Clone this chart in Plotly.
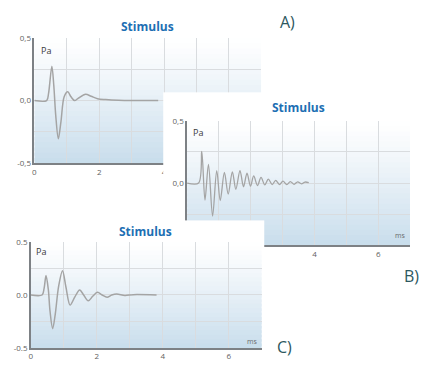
import plotly.graph_objects as go

# ---------------- data ----------------
a_time = [0.0, 0.38, 0.44, 0.54, 0.60, 0.66, 0.74, 0.82, 0.92, 1.03, 1.13, 1.24,
          1.36, 1.58, 1.75, 1.95, 2.2, 2.6, 3.0, 3.82]
a_pressure = [0.0, 0.0, 0.06, 0.275, 0.12, -0.12, -0.305, -0.17, 0.03, 0.07, 0.03, 0.0,
              0.02, 0.05, 0.035, 0.015, 0.008, 0.002, 0.0, 0.0]

b_time = [0.0, 0.36, 0.46, 0.56, 0.67, 0.80, 0.93, 1.04, 1.17, 1.29, 1.42, 1.53,
          1.66, 1.77, 1.88, 1.99, 2.09, 2.21, 2.32, 2.44, 2.55, 2.67, 2.78, 2.90,
          3.01, 3.13, 3.24, 3.36, 3.47, 3.59, 3.70, 3.82]
b_pressure = [0.0, 0.0, 0.255, -0.137, 0.15, -0.265, 0.10, -0.14, 0.085, -0.088, 0.09, -0.05,
              0.10, -0.03, 0.08, -0.025, 0.057, -0.02, 0.045, -0.015, 0.032, -0.012, 0.022, -0.012,
              0.015, -0.012, 0.012, -0.01, 0.01, -0.006, 0.008, 0.003]

c_time = [0.0, 0.34, 0.40, 0.46, 0.53, 0.58, 0.66, 0.74, 0.84, 0.96, 1.06, 1.19,
          1.33, 1.48, 1.60, 1.74, 1.88, 2.02, 2.16, 2.31, 2.45, 2.60, 2.85, 3.10, 3.81]
c_pressure = [0.0, 0.0, 0.06, 0.183, 0.05, -0.15, -0.318, -0.18, 0.08, 0.23, 0.08, -0.095,
              -0.02, 0.048, 0.0, -0.055, -0.01, 0.025, 0.0, -0.021, 0.0, 0.01, -0.004, 0.003, 0.0]

x_ticks = [0, 1, 2, 3, 4, 5, 6, 7]
x_ticklabels = ["0", "", "2", "", "4", "", "6", ""]
y_ticks = [-0.5, -0.25, 0.0, 0.25, 0.5]
y_ticklabels_comma = ["-0,5", "", "0,0", "", "0,5"]
y_ticklabels_dot = ["-0.5", "", "0.0", "", "0.5"]

title_text = "Stimulus"
y_unit = "Pa"
x_unit = "ms"
panel_names = ["A)", "B)", "C)"]

# ---------------- layout helpers (pixel boxes) ----------------
W, H = 423, 368


def dx(p0, p1):
    return [p0 / W, p1 / W]


def dy(p0, p1):  # p0 = top pixel, p1 = bottom pixel
    return [1 - p1 / H, 1 - p0 / H]


def px(x):
    return x / W


def py(y):
    return 1 - y / H


FONT = "Open Sans"
TRACE_COLOR = "#a4a4a4"
GRID = "#d9dcdf"
AXLINE = "#7d8185"
TICKFONT = dict(family=FONT, size=8, color="#5f5f5f")
TITLE_BLUE = "#1d6fb3"
LABEL_TEAL = "#2c5760"

fig = go.Figure()

# subplot 1: full-page dummy (keeps the rest drawn in stacking order)
fig.add_trace(go.Scatter(x=[], y=[], xaxis="x", yaxis="y", showlegend=False, hoverinfo="skip"))
# subplot 2: chart A
fig.add_trace(go.Scatter(x=a_time, y=a_pressure, xaxis="x2", yaxis="y2", mode="lines",
                         line=dict(color=TRACE_COLOR, width=1.5, shape="spline", smoothing=0.9),
                         showlegend=False, hoverinfo="skip"))
# subplot 3: panel B background
fig.add_trace(go.Scatter(x=[], y=[], xaxis="x3", yaxis="y3", showlegend=False, hoverinfo="skip"))
# subplot 4: chart B
fig.add_trace(go.Scatter(x=b_time, y=b_pressure, xaxis="x4", yaxis="y4", mode="lines",
                         line=dict(color=TRACE_COLOR, width=1.3, shape="spline", smoothing=0.9),
                         showlegend=False, hoverinfo="skip"))
# subplot 5: panel C background
fig.add_trace(go.Scatter(x=[], y=[], xaxis="x5", yaxis="y5", showlegend=False, hoverinfo="skip"))
# subplot 6: chart C
fig.add_trace(go.Scatter(x=c_time, y=c_pressure, xaxis="x6", yaxis="y6", mode="lines",
                         line=dict(color=TRACE_COLOR, width=1.5, shape="spline", smoothing=0.9),
                         showlegend=False, hoverinfo="skip"))


def hidden_axis(domain, anchor):
    return dict(domain=domain, anchor=anchor, range=[0, 1], visible=False, fixedrange=True)


def chart_xaxis(domain, anchor):
    return dict(domain=domain, anchor=anchor, range=[0, 7], tickvals=x_ticks, ticktext=x_ticklabels,
                showgrid=True, gridcolor=GRID, gridwidth=1, zeroline=False,
                showline=True, linecolor=AXLINE, linewidth=1.5, ticks="",
                tickfont=TICKFONT, fixedrange=True)


def chart_yaxis(domain, anchor, labels):
    return dict(domain=domain, anchor=anchor, range=[-0.5, 0.5], tickvals=y_ticks, ticktext=labels,
                showgrid=True, gridcolor=GRID, gridwidth=1, zeroline=False,
                showline=True, linecolor=AXLINE, linewidth=1.5, ticks="",
                tickfont=TICKFONT, fixedrange=True)


A_box = (32.5, 33, 260.5, 162)
B_panel = (162, 89, 430, 266)
B_box = (186, 118.3, 410, 246.7)
C_panel = (-5, 221, 263.5, 372)
C_box = (29, 243.3, 261, 352.5)

layout = dict(
    width=W, height=H, margin=dict(l=0, r=0, t=0, b=0),
    paper_bgcolor="white", plot_bgcolor="white", showlegend=False,
    xaxis=hidden_axis([0, 1], "y"), yaxis=hidden_axis([0, 1], "x"),
    xaxis2=chart_xaxis(dx(A_box[0], A_box[2]), "y2"),
    yaxis2=chart_yaxis(dy(A_box[1], A_box[3]), "x2", y_ticklabels_comma),
    xaxis3=hidden_axis(dx(max(B_panel[0], 0), min(B_panel[2], W)), "y3"),
    yaxis3=hidden_axis(dy(B_panel[1], B_panel[3]), "x3"),
    xaxis4=chart_xaxis(dx(B_box[0], B_box[2]), "y4"),
    yaxis4=chart_yaxis(dy(B_box[1], B_box[3]), "x4", y_ticklabels_comma),
    xaxis5=hidden_axis(dx(0, C_panel[2]), "y5"),
    yaxis5=hidden_axis(dy(C_panel[1], H), "x5"),
    xaxis6=chart_xaxis(dx(C_box[0], C_box[2]), "y6"),
    yaxis6=chart_yaxis(dy(C_box[1], C_box[3]), "x6", y_ticklabels_dot),
)
fig.update_layout(**layout)

# vertical white-to-blue gradient behind each chart's grid (overlapping bands in the subplot's own layer)
top_rgb = (255, 255, 255)
bot_rgb = (200, 221, 236)
n_bands = 24
shapes = []
for xr, yr in (("x2", "y2"), ("x4", "y4"), ("x6", "y6")):
    for i in range(n_bands):
        t = (i + 0.5) / n_bands
        t = t ** 1.15
        col = "rgb(%d,%d,%d)" % tuple(round(top_rgb[k] + (bot_rgb[k] - top_rgb[k]) * t) for k in range(3))
        y_top = 0.5 - i / n_bands
        y_bot = -0.5 if i == n_bands - 1 else 0.5 - (i + 1.6) / n_bands
        shapes.append(dict(type="rect", xref=xr, yref=yr, x0=0, x1=7, y0=y_bot, y1=y_top,
                           fillcolor=col, line=dict(width=0), layer="below"))
fig.update_layout(shapes=shapes)

ann = []
for (cx, cy) in ((145.8, 20.7), (298.3, 105), (144, 232.3)):
    ann.append(dict(x=px(cx), y=py(cy), xref="paper", yref="paper", text="<b>%s</b>" % title_text,
                    showarrow=False, xanchor="center", yanchor="middle",
                    font=dict(family=FONT, size=12, color=TITLE_BLUE)))
for (cx, cy) in ((44, 45.5), (197, 130), (39.5, 253.5)):
    ann.append(dict(x=px(cx), y=py(cy), xref="paper", yref="paper", text=y_unit,
                    showarrow=False, xanchor="center", yanchor="middle",
                    font=dict(family=FONT, size=9, color="#3a3a3a")))
for (cx, cy) in ((400, 237), (251.5, 345.5)):
    ann.append(dict(x=px(cx), y=py(cy), xref="paper", yref="paper", text=x_unit,
                    showarrow=False, xanchor="center", yanchor="middle",
                    font=dict(family=FONT, size=7, color="#6a6a6a")))
for name, (cx, cy) in zip(panel_names, ((286.7, 16.5), (411.5, 278), (283.5, 352))):
    ann.append(dict(x=px(cx), y=py(cy), xref="paper", yref="paper", text=name,
                    showarrow=False, xanchor="center", yanchor="middle",
                    font=dict(family=FONT, size=16, color=LABEL_TEAL)))
fig.update_layout(annotations=ann)

fig.write_html("out.html")
